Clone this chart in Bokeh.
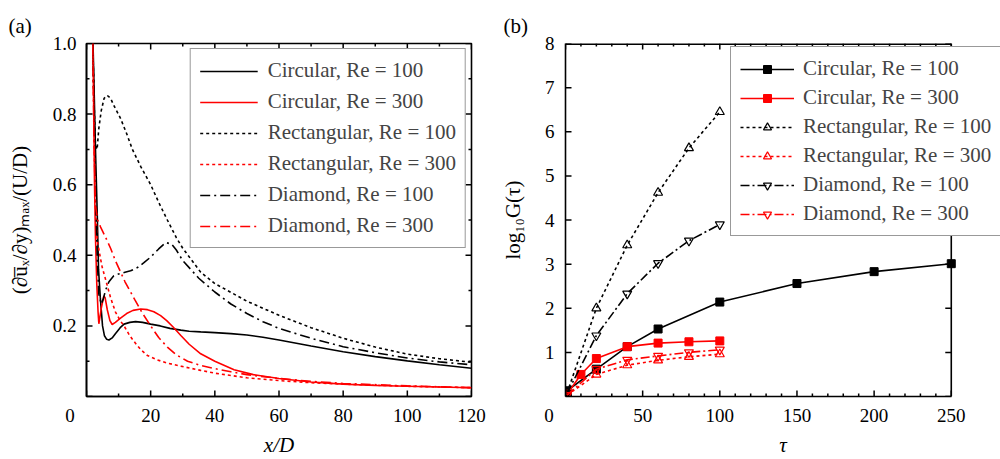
import math
from bokeh.plotting import figure
from bokeh.layouts import row
from bokeh.models import FixedTicker, Legend, LegendItem, Range1d
from bokeh.embed import file_html
from bokeh.resources import INLINE

FONT = "Liberation Serif"
RED = "#ff0000"
BLACK = "#000000"
NBSP = "\u00a0"

# ---------------- Panel (a) data ----------------
circ100_x = [1.9, 2.3, 2.8, 3.4, 3.75, 4.3, 5.0, 5.6, 6.3, 7.0, 8.0, 9.0, 10.5, 11.7, 13.5, 15.3, 17.5, 20, 23, 26, 29.4, 32, 35.6, 40, 45, 50, 55, 60, 70, 80, 90, 100, 110, 120]
circ100_y = [1.05, 0.9, 0.7, 0.5, 0.36, 0.28, 0.2, 0.172, 0.162, 0.16, 0.166, 0.178, 0.195, 0.205, 0.21, 0.212, 0.21, 0.205, 0.2, 0.193, 0.188, 0.185, 0.183, 0.181, 0.178, 0.174, 0.168, 0.16, 0.143, 0.127, 0.113, 0.101, 0.09, 0.08]

circ300_x = [1.9, 2.2, 2.5, 2.8, 3.2, 3.6, 3.85, 4.6, 5.4, 5.8, 6.5, 7.3, 8.0, 9.0, 10.6, 12.5, 14.5, 16.9, 19, 21, 23.1, 25, 27, 29.4, 32, 35.6, 40, 46, 52, 60, 70, 80, 90, 100, 110, 120]
circ300_y = [1.05, 0.85, 0.6, 0.45, 0.32, 0.24, 0.206, 0.25, 0.285, 0.28, 0.245, 0.215, 0.204, 0.21, 0.222, 0.235, 0.244, 0.248, 0.246, 0.24, 0.229, 0.215, 0.197, 0.173, 0.148, 0.121, 0.1, 0.076, 0.062, 0.051, 0.041, 0.035, 0.031, 0.029, 0.027, 0.025]

rect100_x = [1.9, 2.3, 2.8, 3.3, 3.85, 4.6, 5.5, 6.45, 7.5, 8.5, 10.6, 12.5, 14.3, 17, 20, 22.5, 25.2, 28, 30, 35.6, 40, 45, 50, 55, 60, 70, 80, 90, 100, 110, 120]
rect100_y = [1.05, 0.85, 0.71, 0.70, 0.76, 0.81, 0.845, 0.853, 0.845, 0.825, 0.788, 0.745, 0.70, 0.65, 0.6, 0.55, 0.5, 0.45, 0.42, 0.352, 0.32, 0.295, 0.27, 0.25, 0.23, 0.195, 0.165, 0.14, 0.12, 0.107, 0.097]

rect300_x = [1.9, 2.3, 2.7, 3.3, 4.4, 4.9, 6, 7.5, 9, 10.5, 11.7, 13.5, 15.5, 17, 19, 22, 25, 29.4, 35.6, 40, 50, 60, 70, 80, 100, 120]
rect300_y = [1.05, 0.8, 0.56, 0.445, 0.389, 0.366, 0.33, 0.28, 0.24, 0.215, 0.2, 0.172, 0.148, 0.132, 0.116, 0.104, 0.095, 0.086, 0.074, 0.066, 0.053, 0.045, 0.039, 0.035, 0.029, 0.025]

diam100_x = [1.9, 2.4, 2.9, 3.4, 3.85, 4.6, 5.2, 5.9, 7, 8.5, 10, 12, 13.75, 16, 17.9, 20, 22.5, 24.7, 26.5, 28, 30, 32.5, 35, 40, 45, 50, 55, 60, 70, 80, 90, 100, 110, 120]
diam100_y = [1.05, 0.8, 0.55, 0.38, 0.29, 0.262, 0.275, 0.3, 0.325, 0.342, 0.347, 0.352, 0.356, 0.366, 0.379, 0.395, 0.418, 0.436, 0.432, 0.415, 0.385, 0.36, 0.335, 0.296, 0.262, 0.235, 0.212, 0.193, 0.165, 0.141, 0.124, 0.109, 0.098, 0.09]

diam300_x = [1.9, 2.3, 2.8, 3.5, 4.4, 6, 7.5, 9, 10.5, 12, 13.5, 15, 17.5, 20, 22.5, 25.2, 28, 31.5, 35.6, 40, 45, 50, 60, 70, 80, 100, 120]
diam300_y = [1.05, 0.75, 0.54, 0.5, 0.48, 0.45, 0.42, 0.385, 0.355, 0.325, 0.3, 0.275, 0.235, 0.2, 0.167, 0.14, 0.118, 0.1, 0.088, 0.079, 0.07, 0.062, 0.051, 0.043, 0.037, 0.03, 0.025]

series_labels = ["Circular, Re = 100", "Circular, Re = 300", "Rectangular, Re = 100",
                 "Rectangular, Re = 300", "Diamond, Re = 100", "Diamond, Re = 300"]

a_xlim = (0, 120)
a_ylim = (0.0, 1.0)
a_xticks = [0, 20, 40, 60, 80, 100, 120]
a_xminor = [10, 30, 50, 70, 90, 110]
a_yticks = [0.0, 0.2, 0.4, 0.6, 0.8, 1.0]
a_yminor = [0.1, 0.3, 0.5, 0.7, 0.9]

# ---------------- Panel (b) data ----------------
tau_circ100 = [1, 20, 40, 60, 100, 150, 200, 250]
G_circ100 = [0.13, 0.62, 1.13, 1.53, 2.14, 2.56, 2.83, 3.01]
tau_circ300 = [1, 10, 20, 40, 60, 80, 100]
G_circ300 = [0.05, 0.5, 0.86, 1.13, 1.21, 1.24, 1.26]
tau_other = [1, 20, 40, 60, 80, 100]
G_rect100 = [0.08, 2.0, 3.43, 4.62, 5.63, 6.45]
G_rect300 = [0.03, 0.5, 0.71, 0.82, 0.90, 0.96]
G_diam100 = [0.07, 1.38, 2.33, 3.02, 3.53, 3.9]
G_diam300 = [0.03, 0.62, 0.83, 0.92, 1.0, 1.06]

b_xlim = (0, 250)
b_ylim = (0, 8)
b_xticks = [0, 50, 100, 150, 200, 250]
b_xminor = [t for t in range(10, 250, 10) if t % 50 != 0]
b_yticks = [0, 1, 2, 3, 4, 5, 6, 7, 8]

DOT = "3 3"
DASHDOT = "10 4 2 4"
B_DOT = "3 3"
B_DASHDOT = "9 3 2 3"

# layout (pixels)
HEIGHT = 459
TOP, BOTTOM = 43, 60
FRAME_H = HEIGHT - TOP - BOTTOM
A_W, A_LEFT, A_RIGHT = 496, 86, 25
B_W, B_LEFT, B_RIGHT = 504, 69, 0
A_FRAME_W = A_W - A_LEFT - A_RIGHT
B_FRAME_W = B_W - B_LEFT - B_RIGHT
b_view_end = 281.9   # frame continues past tau = 250 so the legend may run to the page edge

MAJ = 6
MIN = 3
TICK_W = 1.5


def style_axis(ax, ticks, labels):
    ax.ticker = FixedTicker(ticks=ticks, minor_ticks=[])
    ax.axis_line_color = BLACK
    ax.axis_line_width = 1.6
    ax.major_tick_in = 0
    ax.major_tick_out = 0
    ax.minor_tick_in = 0
    ax.minor_tick_out = 0
    ax.major_label_text_font = FONT
    ax.major_label_text_font_size = "19px"
    ax.major_label_text_color = BLACK
    ax.axis_label_text_font = FONT
    ax.axis_label_text_font_size = "21px"
    ax.axis_label_text_font_style = "normal"
    ax.axis_label_text_color = BLACK
    ax.major_label_overrides = dict(zip(ticks, labels))


def make_fig(title, title_offset, xr, yr, width, border_left, border_right):
    p = figure(width=width, height=HEIGHT, output_backend="svg", toolbar_location=None,
               title=title, x_range=Range1d(*xr), y_range=Range1d(*yr),
               min_border_left=border_left, min_border_right=border_right,
               min_border_top=TOP, min_border_bottom=BOTTOM)
    p.grid.visible = False
    p.background_fill_color = "white"
    p.border_fill_color = "white"
    p.title.text_font = FONT
    p.title.text_font_size = "21px"
    p.title.text_font_style = "normal"
    p.title.text_color = BLACK
    p.title.align = "left"
    p.title.offset = title_offset
    p.title.standoff = 12
    return p


def ticks_x(p, xs, y_edge, inward, length, y_per_px):
    # vertical dash markers, centred half a tick length inside the frame edge
    yc = y_edge + inward * (length / 2.0) * y_per_px
    p.scatter(x=list(xs), y=[yc] * len(xs), marker="dash", size=length,
              angle=math.pi / 2, line_color=BLACK, line_width=TICK_W)


def ticks_y(p, ys, x_edge, inward, length, x_per_px):
    xc = x_edge + inward * (length / 2.0) * x_per_px
    p.scatter(x=[xc] * len(ys), y=list(ys), marker="dash", size=length,
              angle=0.0, line_color=BLACK, line_width=TICK_W)


# ================= Panel (a) =================
pa = make_fig("(a)", -78, a_xlim, a_ylim, A_W, A_LEFT, A_RIGHT)
pa.outline_line_color = BLACK
pa.outline_line_width = 1.6

ra1 = pa.line(circ100_x, circ100_y, line_color=BLACK, line_width=1.6)
ra2 = pa.line(circ300_x, circ300_y, line_color=RED, line_width=1.6)
ra3 = pa.line(rect100_x, rect100_y, line_color=BLACK, line_width=1.6, line_dash=DOT)
ra4 = pa.line(rect300_x, rect300_y, line_color=RED, line_width=1.6, line_dash=DOT)
ra5 = pa.line(diam100_x, diam100_y, line_color=BLACK, line_width=1.6, line_dash=DASHDOT)
ra6 = pa.line(diam300_x, diam300_y, line_color=RED, line_width=1.6, line_dash=DASHDOT)

ax_px = (a_xlim[1] - a_xlim[0]) / A_FRAME_W
ay_px = (a_ylim[1] - a_ylim[0]) / FRAME_H
ticks_x(pa, a_xticks, a_ylim[0], 1, MAJ, ay_px)
ticks_x(pa, a_xminor, a_ylim[0], 1, MIN, ay_px)
ticks_x(pa, a_xticks, a_ylim[1], -1, MAJ, ay_px)
ticks_x(pa, a_xminor, a_ylim[1], -1, MIN, ay_px)
ticks_y(pa, a_yticks, a_xlim[0], 1, MAJ, ax_px)
ticks_y(pa, a_yminor, a_xlim[0], 1, MIN, ax_px)
ticks_y(pa, a_yticks, a_xlim[1], -1, MAJ, ax_px)
ticks_y(pa, a_yminor, a_xlim[1], -1, MIN, ax_px)

style_axis(pa.xaxis[0], a_xticks, ["0" + NBSP * 7] + [str(t) for t in a_xticks[1:]])
style_axis(pa.yaxis[0], a_yticks, [""] + [f"{v:.1f}" for v in a_yticks[1:]])
pa.xaxis[0].major_label_standoff = 8
pa.yaxis[0].major_label_standoff = 10
pa.xaxis[0].axis_label = "x/D"
pa.xaxis[0].axis_label_text_font_style = "italic"
pa.xaxis[0].axis_label_standoff = 4
pa.yaxis[0].axis_label = "(\u2202u\u0305\u2093/\u2202y)\u2098\u2090\u2093/(U/D)"
pa.yaxis[0].axis_label_standoff = 18

leg_a = Legend(items=[LegendItem(label=l, renderers=[r]) for l, r in
                      zip(series_labels, [ra1, ra2, ra3, ra4, ra5, ra6])],
               location="top_right", margin=5, padding=9, spacing=6,
               glyph_width=58, glyph_height=20, label_height=20, label_standoff=10,
               label_text_font=FONT, label_text_font_size="21px",
               border_line_color="#333333", border_line_width=1.3,
               background_fill_color="white", background_fill_alpha=1.0)
pa.add_layout(leg_a)

# ================= Panel (b) =================
pb = make_fig("(b)", -62, (b_xlim[0], b_view_end), b_ylim, B_W, B_LEFT, B_RIGHT)
pb.outline_line_color = None

lw = 1.6
rb1 = pb.line(tau_circ100, G_circ100, line_color=BLACK, line_width=lw)
sb1 = pb.scatter(tau_circ100, G_circ100, marker="square", size=8, fill_color=BLACK, line_color=BLACK)
rb2 = pb.line(tau_circ300, G_circ300, line_color=RED, line_width=lw)
sb2 = pb.scatter(tau_circ300, G_circ300, marker="square", size=8, fill_color=RED, line_color=RED)
rb3 = pb.line(tau_other, G_rect100, line_color=BLACK, line_width=lw, line_dash=B_DOT)
sb3 = pb.scatter(tau_other, G_rect100, marker="triangle", size=9, fill_color=None, line_color=BLACK, line_width=1.2)
rb4 = pb.line(tau_other, G_rect300, line_color=RED, line_width=lw, line_dash=B_DOT)
sb4 = pb.scatter(tau_other, G_rect300, marker="triangle", size=9, fill_color=None, line_color=RED, line_width=1.2)
rb5 = pb.line(tau_other, G_diam100, line_color=BLACK, line_width=lw, line_dash=B_DASHDOT)
sb5 = pb.scatter(tau_other, G_diam100, marker="inverted_triangle", size=9, fill_color=None, line_color=BLACK, line_width=1.2)
rb6 = pb.line(tau_other, G_diam300, line_color=RED, line_width=lw, line_dash=B_DASHDOT)
sb6 = pb.scatter(tau_other, G_diam300, marker="inverted_triangle", size=9, fill_color=None, line_color=RED, line_width=1.2)

# top and right frame lines of the tau in [0, 250] box
pb.segment(x0=[b_xlim[0]], y0=[b_ylim[1]], x1=[b_xlim[1]], y1=[b_ylim[1]], line_color=BLACK, line_width=3.2)
pb.segment(x0=[b_xlim[1]], y0=[b_ylim[0]], x1=[b_xlim[1]], y1=[b_ylim[1]], line_color=BLACK, line_width=1.6)

bx_px = (b_view_end - b_xlim[0]) / B_FRAME_W
by_px = (b_ylim[1] - b_ylim[0]) / FRAME_H
ticks_x(pb, b_xticks, b_ylim[0], 1, MAJ, by_px)
ticks_x(pb, b_xminor, b_ylim[0], 1, MIN, by_px)
ticks_x(pb, b_xticks, b_ylim[1], -1, MAJ, by_px)
ticks_x(pb, b_xminor, b_ylim[1], -1, MIN, by_px)
ticks_y(pb, b_yticks, b_xlim[0], 1, MAJ, bx_px)
ticks_y(pb, b_yticks, b_xlim[1], -1, MAJ, bx_px)

style_axis(pb.xaxis[0], b_xticks, ["0" + NBSP * 7] + [str(t) for t in b_xticks[1:]])
style_axis(pb.yaxis[0], b_yticks, [""] + [str(t) for t in b_yticks[1:]])
pb.xaxis[0].bounds = b_xlim
pb.xaxis[0].major_label_standoff = 8
pb.yaxis[0].major_label_standoff = 11
pb.xaxis[0].axis_label = "\u03c4"
pb.xaxis[0].axis_label_text_font_style = "italic"
pb.xaxis[0].axis_label_standoff = 4
pb.yaxis[0].axis_label = "log\u2081\u2080G(\u03c4)"
pb.yaxis[0].axis_label_standoff = 17

leg_b = Legend(items=[LegendItem(label=l, renderers=[r, s]) for l, r, s in
                      zip(series_labels, [rb1, rb2, rb3, rb4, rb5, rb6], [sb1, sb2, sb3, sb4, sb5, sb6])],
               location=(165, 160), padding=9, spacing=4,
               glyph_width=54, glyph_height=20, label_height=20, label_standoff=9,
               label_text_font=FONT, label_text_font_size="21px",
               border_line_color="#333333", border_line_width=1.3,
               background_fill_color="white", background_fill_alpha=1.0)
pb.add_layout(leg_b)

layout = row(pa, pb)
open("out.html", "w").write(file_html(layout, INLINE))
